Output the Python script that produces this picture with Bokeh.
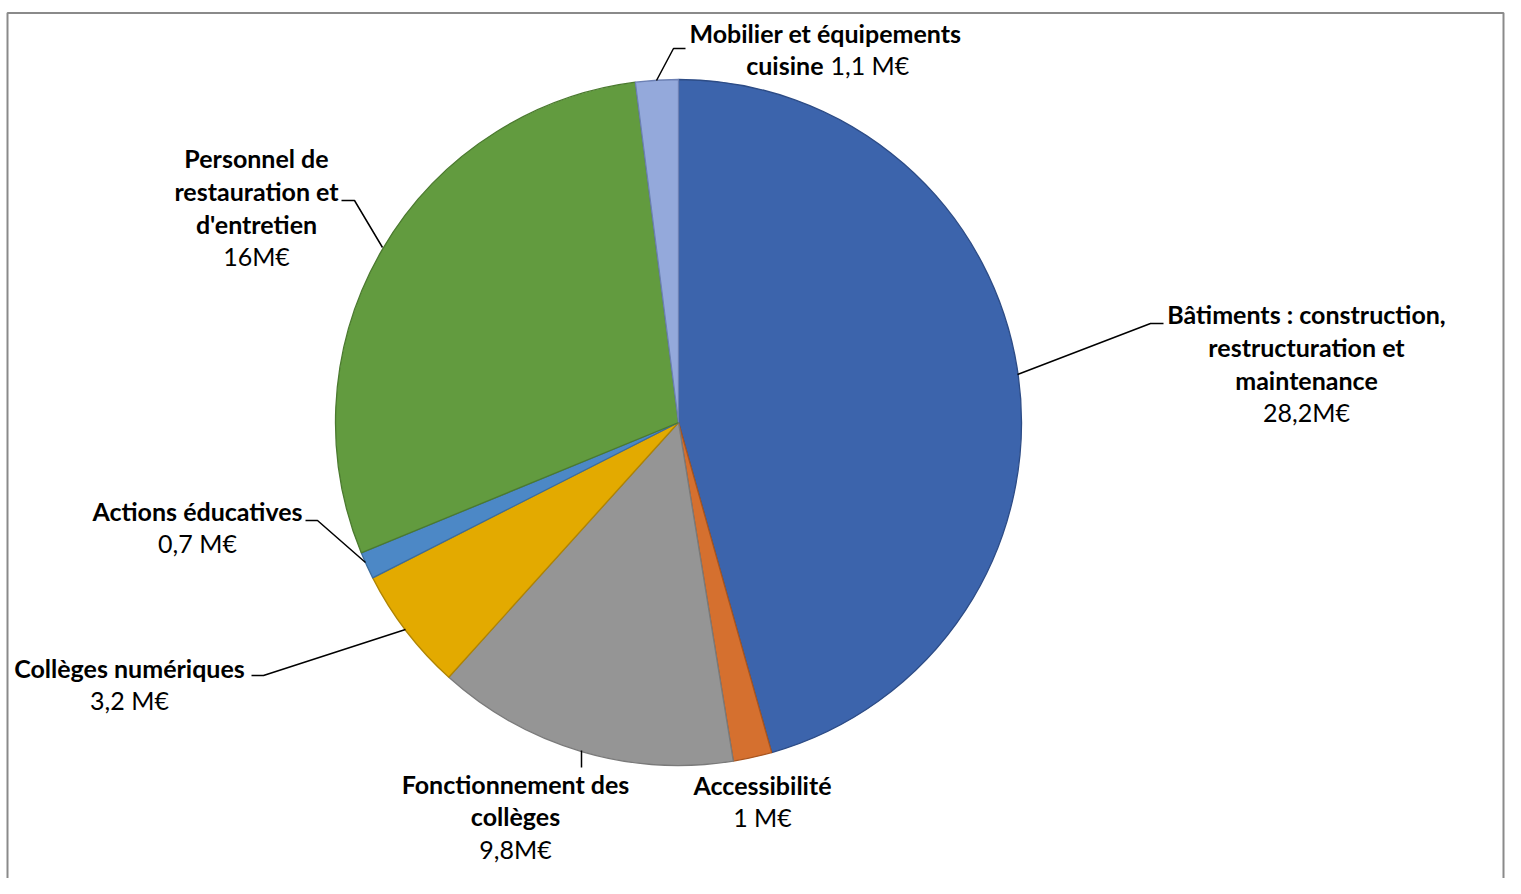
import numpy as np
from bokeh.plotting import figure
from bokeh.models import Range1d, ColumnDataSource
from bokeh.core.properties import value
from bokeh.embed import file_html
from bokeh.resources import INLINE

# ---- data (slice sizes, labels as printed) ----
categories = ["Bâtiments : construction, restructuration et maintenance",
              "Accessibilité", "Fonctionnement des collèges", "Collèges numériques",
              "Actions éducatives", "Personnel de restauration et d'entretien",
              "Mobilier et équipements cuisine"]
slice_values = [25.0, 1.0, 7.8, 3.2, 0.7, 16.0, 1.1]
value_labels = ["28,2M€", "1 M€", "9,8M€", "3,2 M€", "0,7 M€", "16M€", "1,1 M€"]

fills = ["#3C64AC", "#D5702F", "#959595", "#E3AA00", "#4C88C6", "#629B3F", "#94A9DB"]
edges = ["#2D4C86", "#A85520", "#7A7A7A", "#B08400", "#3A6C9E", "#4B7A2F", "#6C80B4"]

W, H = 1505, 878
OX, OY = 0, 0  # screenshot offset of the figure


def dx(sx):
    return sx - OX


def dy(sy):
    return (OY + H) - sy


p = figure(width=W, height=H, output_backend="svg", toolbar_location=None,
           x_range=Range1d(0, W), y_range=Range1d(0, H), min_border=0)
p.axis.visible = False
p.grid.visible = False
p.outline_line_color = None
p.background_fill_color = "white"
p.border_fill_color = "white"

# frame
p.line([7, 7, W - 2, W - 2], [-20, dy(12.5), dy(12.5), -20], line_color="#8A8A8A", line_width=2)

# pie
vals = np.array(slice_values)
cum = np.concatenate([[0], np.cumsum(vals)]) / vals.sum()
start = np.pi / 2 - cum[:-1] * 2 * np.pi
end = np.pi / 2 - cum[1:] * 2 * np.pi
src = ColumnDataSource(dict(start=start, end=end, fill=fills, edge=edges, cat=categories))
p.wedge(x=dx(678), y=dy(422), radius=343, start_angle="start", end_angle="end",
        direction="clock", fill_color="fill", line_color="edge", line_width=1.3, source=src)

# leader lines (screen coords)
leaders = [
    [(656, 80), (673, 48), (685, 48)],
    [(1017, 374), (1150, 323), (1163, 323)],
    [(382, 247), (354, 200), (341, 200)],
    [(365, 562), (317, 520), (305, 520)],
    [(405, 629), (263, 675), (251, 675)],
    [(581, 750), (581, 767)],
]
for pts in leaders:
    p.line([dx(a) for a, b in pts], [dy(b) for a, b in pts], line_color="black", line_width=1.5)

FONT = "Lato"
FS = "25px"


def txt(s, sx, sy, bold=True, align="center"):
    p.text(x=[dx(sx)], y=[dy(sy - 1.5)], text=[s], text_font=value(FONT), text_font_size=FS,
           text_font_style="bold" if bold else "normal", text_align=align,
           text_baseline="middle", text_color="black")


# Mobilier
txt("Mobilier et équipements", 825, 34)
txt("cuisine", 823, 66, align="right")
txt(value_labels[6], 830, 66, bold=False, align="left")
# Bâtiments
txt("Bâtiments : construction,", 1306, 315)
txt("restructuration et", 1306, 348)
txt("maintenance", 1306, 381)
txt(value_labels[0], 1306, 413, bold=False)
# Personnel
txt("Personnel de", 256, 159)
txt("restauration et", 256, 192)
txt("d'entretien", 256, 225)
txt(value_labels[5], 256, 257, bold=False)
# Actions
txt("Actions éducatives", 197, 512)
txt(value_labels[4], 197, 544, bold=False)
# Collèges numériques
txt("Collèges numériques", 129, 669)
txt(value_labels[3], 129, 701, bold=False)
# Fonctionnement
txt("Fonctionnement des", 515, 785)
txt("collèges", 515, 817)
txt(value_labels[2], 515, 850, bold=False)
# Accessibilité
txt("Accessibilité", 762, 786)
txt(value_labels[1], 762, 818, bold=False)

open("out.html", "w").write(file_html(p, INLINE))
